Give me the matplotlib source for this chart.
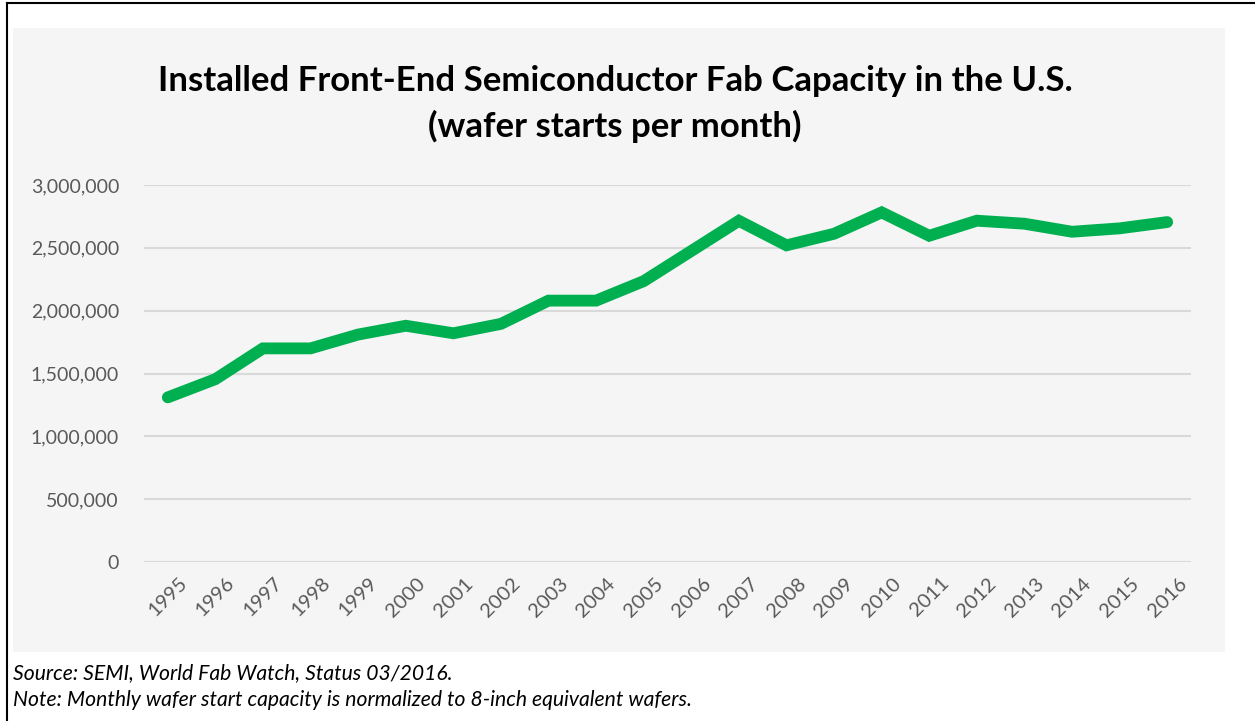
import matplotlib
matplotlib.use("Agg")
import matplotlib.pyplot as plt
from matplotlib.ticker import FuncFormatter, MultipleLocator
from matplotlib.patches import Rectangle
from matplotlib.lines import Line2D

years = ["1995", "1996", "1997", "1998", "1999", "2000", "2001", "2002", "2003", "2004",
         "2005", "2006", "2007", "2008", "2009", "2010", "2011", "2012", "2013", "2014",
         "2015", "2016"]
capacity = [1310000, 1455000, 1700000, 1700000, 1810000, 1880000, 1820000, 1895000,
            2080000, 2080000, 2235000, 2475000, 2715000, 2520000, 2612000, 2782000,
            2596000, 2716000, 2692000, 2628000, 2655000, 2705000]

title = "Installed Front-End Semiconductor Fab Capacity in the U.S.\n(wafer starts per month)"
note1 = "Source: SEMI, World Fab Watch, Status 03/2016."
note2 = "Note: Monthly wafer start capacity is normalized to 8-inch equivalent wafers."

W, H = 1255, 721
fig = plt.figure(figsize=(W / 100, H / 100), dpi=100)
fig.patch.set_facecolor("white")

def fx(px):
    return px / W

def fy(py):
    return 1 - py / H

# chart area background
fig.patches.append(Rectangle((fx(13), fy(652)), fx(1225) - fx(13), fy(28) - fy(652),
                             transform=fig.transFigure, facecolor="#F5F5F5",
                             edgecolor="none", zorder=-5))
# border lines (top, left)
fig.lines.append(Line2D([fx(7), 1], [fy(3), fy(3)], transform=fig.transFigure,
                        color="black", lw=1.5, zorder=-4))
fig.lines.append(Line2D([fx(7), fx(7)], [fy(3), 0], transform=fig.transFigure,
                        color="black", lw=1.5, zorder=-4))

ax = fig.add_axes([fx(144), fy(562), fx(1191) - fx(144), fy(185) - fy(562)])
ax.set_zorder(2)
ax.set_facecolor("none")
x = list(range(len(years)))
ax.plot(x, capacity, color="#00B050", lw=8.5, solid_capstyle="round",
        solid_joinstyle="miter", zorder=3)
ax.set_xlim(-0.5, len(years) - 0.5)
ax.set_ylim(0, 3000000)
ax.yaxis.set_major_locator(MultipleLocator(500000))
ax.yaxis.set_major_formatter(FuncFormatter(lambda v, p: f"{int(v):,}"))
ax.grid(axis="y", color="#D9D9D9", lw=1.5)
ax.set_axisbelow(True)
for s in ax.spines.values():
    s.set_visible(False)
ax.tick_params(axis="both", length=0, colors="#595959")
ax.tick_params(axis="y", labelsize=14, pad=18)
ax.set_xticks(x)
ax.set_xticklabels(years, rotation=45, ha="center", va="top", fontsize=14.5,
                   color="#595959")
ax.tick_params(axis="x", pad=9)
for lab in ax.get_yticklabels() + ax.get_xticklabels():
    lab.set_family("Lato")

fig.text(fx(615), fy(104), title, ha="center", va="center", fontsize=25,
         fontweight="bold", family="Lato", color="black", linespacing=1.45)

fig.text(fx(13), fy(673), note1, ha="left", va="center", fontsize=15.2,
         style="italic", family="Lato", color="black")
fig.text(fx(13), fy(700), note2, ha="left", va="center", fontsize=15.2,
         style="italic", family="Lato", color="black")

fig.savefig("out.png", dpi=100)
